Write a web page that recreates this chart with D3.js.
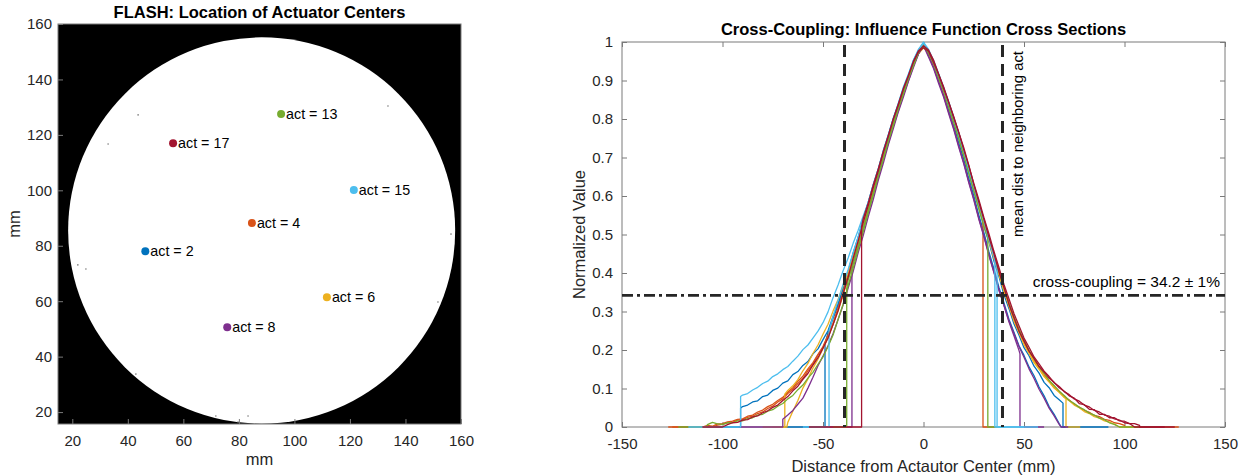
<!DOCTYPE html>
<html><head><meta charset="utf-8">
<script src="https://cdn.jsdelivr.net/npm/d3@7"></script>
<style>
body{margin:0;background:#fff;}
svg{display:block;font-family:"Liberation Sans",Arial,Helvetica,sans-serif;}
</style></head><body>
<svg id="chart" width="1246" height="476"></svg>
<script>
// ---------------- LEFT: actuator locations ----------------
const mapXRange = [14.85, 160];
const mapYRange = [15.7, 160];
const mapTicks = [20, 40, 60, 80, 100, 120, 140, 160];
const pupilCenter = [88.2, 85.5];
const pupilRadius = 69.7;
const actNumbers = [2, 4, 6, 8, 13, 15, 17];
const actX = [46.3, 84.7, 111.7, 75.8, 95.2, 121.4, 56.3];
const actY = [78.0, 88.2, 61.4, 50.6, 127.5, 100.1, 117.0];
const speckX = [43.7, 32.9, 133.7, 156.4, 22.0, 24.9, 42.9, 71.7, 83.3, 79.7, 151.7];
const speckY = [127.2, 116.7, 130.4, 84.2, 73.1, 71.6, 33.7, 18.6, 18.6, 16.4, 59.7];

// ---------------- RIGHT: cross sections ----------------
const xTicksCC = [-150, -100, -50, 0, 50, 100, 150];
const yTicksCC = [0, 0.1, 0.2, 0.3, 0.4, 0.5, 0.6, 0.7, 0.8, 0.9, 1];
const meanDist = 39.3;
const crossCoupling = 0.342;
const gridStep = 2.5;
// each profile: zero extent, low cut [x,y], high cut [x,y], first grid x, values on the grid
const prof2A = {zero: [-70, 78], lo: [-49, 0.215], hi: [69.4, 0.062], from: -47.5, vals: [
  0.245, 0.282, 0.316, 0.358, 0.398, 0.447, 0.488, 0.537, 0.579,
  0.624, 0.666, 0.713, 0.755, 0.799, 0.836, 0.877, 0.91, 0.948, 0.976,
  0.994, 0.973, 0.943, 0.909, 0.871, 0.834, 0.79, 0.751, 0.704, 0.662,
  0.613, 0.572, 0.522, 0.482, 0.432, 0.392, 0.344, 0.308, 0.268, 0.239,
  0.206, 0.185, 0.158, 0.14, 0.116, 0.102, 0.082, 0.071]};
const prof2B = {zero: [-115, 92], lo: [-91, 0.049], hi: [68.5, 0], from: -90, vals: [
  0.053, 0.057, 0.065, 0.068, 0.079, 0.083,
  0.095, 0.101, 0.114, 0.12, 0.136, 0.144, 0.16, 0.17, 0.19, 0.203,
  0.227, 0.25, 0.287, 0.32, 0.364, 0.403, 0.452, 0.493, 0.542, 0.583,
  0.63, 0.67, 0.718, 0.758, 0.802, 0.838, 0.88, 0.913, 0.952, 0.978,
  0.998, 0.968, 0.941, 0.902, 0.867, 0.824, 0.785, 0.738, 0.696, 0.646,
  0.601, 0.551, 0.506, 0.456, 0.411, 0.363, 0.323, 0.28, 0.246, 0.211,
  0.186, 0.156, 0.133, 0.104, 0.081, 0.053, 0.033, 0.009]};
const prof4A = {zero: [-127, 36], lo: [-110, 0], hi: [29.6, 0.545], from: -107.5, vals: [
  0.004, 0.002, 0.008,
  0.009, 0.013, 0.015, 0.02, 0.021, 0.028, 0.031, 0.039, 0.044, 0.053,
  0.059, 0.069, 0.077, 0.091, 0.102, 0.119, 0.132, 0.151, 0.167, 0.189,
  0.209, 0.239, 0.269, 0.309, 0.349, 0.395, 0.439, 0.487, 0.531, 0.579,
  0.621, 0.668, 0.711, 0.756, 0.796, 0.837, 0.874, 0.913, 0.945, 0.977,
  0.99, 0.978, 0.946, 0.913, 0.875, 0.838, 0.796, 0.758, 0.712, 0.669,
  0.622, 0.579]};
const prof4B = {zero: [-125, 127], lo: [-105, 0], hi: [100, 0.004], from: -102.5, vals: [
  0.005,
  0.007, 0.011, 0.012, 0.018, 0.019, 0.025, 0.028, 0.035, 0.039, 0.048,
  0.054, 0.065, 0.073, 0.087, 0.098, 0.113, 0.126, 0.146, 0.163, 0.187,
  0.207, 0.237, 0.267, 0.306, 0.345, 0.391, 0.435, 0.483, 0.527, 0.574,
  0.617, 0.665, 0.707, 0.753, 0.793, 0.835, 0.872, 0.91, 0.943, 0.975,
  0.985, 0.976, 0.947, 0.915, 0.878, 0.841, 0.799, 0.761, 0.715, 0.673,
  0.627, 0.584, 0.537, 0.495, 0.449, 0.407, 0.361, 0.323, 0.284, 0.253,
  0.221, 0.197, 0.173, 0.155, 0.135, 0.121, 0.104, 0.093, 0.079, 0.07,
  0.059, 0.052, 0.043, 0.038, 0.03, 0.027, 0.02, 0.017, 0.011, 0.009]};
const prof6A = {zero: [-80, 78], lo: [-69, 0.085], hi: [70.9, 0.075], from: -67.5, vals: [
  0.095, 0.107, 0.123, 0.146, 0.165, 0.191, 0.213,
  0.241, 0.267, 0.301, 0.331, 0.367, 0.401, 0.443, 0.485, 0.531, 0.574,
  0.621, 0.662, 0.709, 0.751, 0.794, 0.832, 0.873, 0.907, 0.944, 0.971,
  0.992, 0.975, 0.944, 0.912, 0.874, 0.837, 0.795, 0.757, 0.711, 0.668,
  0.621, 0.578, 0.531, 0.488, 0.441, 0.399, 0.353, 0.314, 0.275, 0.245,
  0.214, 0.191, 0.167, 0.15, 0.131, 0.117, 0.101, 0.09, 0.077]};
const prof6B = {zero: [-75, 110], lo: [-68, 0], hi: [97.5, 0], from: -67.5, vals: [
  0.012, 0.041, 0.069, 0.101, 0.125, 0.153, 0.176,
  0.204, 0.231, 0.267, 0.301, 0.343, 0.386, 0.435, 0.479, 0.527, 0.571,
  0.618, 0.661, 0.707, 0.749, 0.793, 0.831, 0.872, 0.906, 0.943, 0.969,
  0.985, 0.971, 0.941, 0.907, 0.87, 0.833, 0.791, 0.753, 0.707, 0.664,
  0.617, 0.575, 0.528, 0.485, 0.439, 0.398, 0.355, 0.319, 0.282, 0.251,
  0.219, 0.195, 0.17, 0.152, 0.132, 0.118, 0.102, 0.091, 0.077, 0.068,
  0.057, 0.05, 0.04, 0.035, 0.027, 0.023, 0.016, 0.013, 0.007]};
const prof8A = {zero: [-92, 72], lo: [-70, 0.02], hi: [68.5, 0], from: -67.5, vals: [
  0.031, 0.043, 0.059, 0.075, 0.101, 0.129, 0.159,
  0.184, 0.211, 0.242, 0.279, 0.317, 0.361, 0.404, 0.453, 0.497, 0.546,
  0.591, 0.641, 0.685, 0.733, 0.775, 0.819, 0.857, 0.898, 0.934, 0.969,
  0.99, 0.961, 0.931, 0.893, 0.857, 0.814, 0.773, 0.727, 0.684, 0.635,
  0.59, 0.54, 0.495, 0.446, 0.402, 0.356, 0.317, 0.276, 0.243, 0.209,
  0.181, 0.151, 0.126, 0.098, 0.075, 0.049, 0.029, 0.007]};
const prof8B = {zero: [-50, 60], lo: [-35.6, 0.41], hi: [48, 0.19], from: -35, vals: [
  0.426, 0.467, 0.514, 0.557,
  0.604, 0.647, 0.695, 0.737, 0.782, 0.821, 0.863, 0.899, 0.938, 0.969,
  0.994, 0.965, 0.935, 0.897, 0.861, 0.818, 0.777, 0.731, 0.687, 0.638,
  0.593, 0.543, 0.498, 0.449, 0.404, 0.357, 0.316, 0.273, 0.237, 0.199]};
const prof13A = {zero: [-122, 40], lo: [-108, 0], hi: [32, 0.49], from: -107.5, vals: [
  0.006, 0.012, 0.008,
  0.007, 0.011, 0.011, 0.016, 0.016, 0.022, 0.024, 0.031, 0.033, 0.041,
  0.045, 0.054, 0.061, 0.073, 0.082, 0.097, 0.109, 0.127, 0.142, 0.163,
  0.182, 0.209, 0.239, 0.279, 0.319, 0.367, 0.412, 0.461, 0.507, 0.557,
  0.602, 0.651, 0.695, 0.742, 0.783, 0.827, 0.865, 0.905, 0.939, 0.973,
  0.993, 0.971, 0.944, 0.907, 0.873, 0.831, 0.792, 0.749, 0.706, 0.659,
  0.615, 0.567, 0.523]};
const prof13B = {zero: [-45, 115], lo: [-38.2, 0.36], hi: [97.5, 0], from: -37.5, vals: [
  0.381, 0.424, 0.471, 0.515, 0.563,
  0.607, 0.655, 0.699, 0.746, 0.787, 0.83, 0.868, 0.907, 0.94, 0.973,
  0.988, 0.974, 0.947, 0.91, 0.877, 0.836, 0.798, 0.756, 0.715, 0.669,
  0.627, 0.581, 0.538, 0.492, 0.45, 0.404, 0.363, 0.321, 0.287, 0.253,
  0.226, 0.199, 0.178, 0.156, 0.14, 0.121, 0.108, 0.093, 0.082, 0.069,
  0.061, 0.051, 0.045, 0.036, 0.031, 0.023, 0.019, 0.011, 0.007]};
const prof15A = {zero: [-117, 50], lo: [-91, 0.079], hi: [35.5, 0.44], from: -90, vals: [
  0.083, 0.087, 0.096, 0.103, 0.113, 0.119,
  0.131, 0.138, 0.149, 0.157, 0.171, 0.184, 0.201, 0.213, 0.231, 0.249,
  0.271, 0.299, 0.336, 0.369, 0.406, 0.439, 0.477, 0.511, 0.548, 0.583,
  0.626, 0.667, 0.714, 0.757, 0.801, 0.841, 0.883, 0.917, 0.953, 0.981,
  1.0, 0.981, 0.951, 0.919, 0.882, 0.846, 0.805, 0.766, 0.719, 0.676,
  0.629, 0.586, 0.539, 0.495, 0.447]};
const prof15B = {zero: [-60, 57], lo: [-47, 0.25], hi: [36.6, 0.415], from: -45, vals: [
  0.287, 0.329, 0.371, 0.409, 0.453, 0.494, 0.541, 0.584,
  0.629, 0.671, 0.717, 0.759, 0.803, 0.841, 0.881, 0.915, 0.951, 0.979,
  0.997, 0.977, 0.951, 0.915, 0.881, 0.841, 0.803, 0.761, 0.719, 0.671,
  0.628, 0.581, 0.538, 0.489, 0.444]};
const prof17A = {zero: [-110, 125], lo: [-100, 0], hi: [107.5, 0.004], from: -97.5, vals: [
  0.006, 0.011, 0.012, 0.018, 0.019, 0.026, 0.029, 0.037, 0.042,
  0.051, 0.057, 0.069, 0.079, 0.094, 0.106, 0.124, 0.139, 0.161, 0.18,
  0.205, 0.231, 0.266, 0.302, 0.346, 0.389, 0.438, 0.483, 0.531, 0.575,
  0.622, 0.665, 0.712, 0.755, 0.799, 0.837, 0.878, 0.912, 0.949, 0.977,
  0.99, 0.979, 0.953, 0.917, 0.884, 0.844, 0.807, 0.766, 0.726, 0.681,
  0.631, 0.584, 0.541, 0.494, 0.451, 0.404, 0.363, 0.319, 0.284, 0.249,
  0.223, 0.197, 0.178, 0.157, 0.143, 0.127, 0.116, 0.102, 0.093, 0.081,
  0.075, 0.061, 0.058, 0.046, 0.045, 0.033, 0.033, 0.024, 0.024, 0.016,
  0.015, 0.009, 0.009]};
const prof17B = {zero: [-57, 120], lo: [-30.8, 0.52], hi: [105, 0], from: -30, vals: [
  0.541, 0.582,
  0.628, 0.67, 0.716, 0.757, 0.801, 0.839, 0.879, 0.913, 0.949, 0.975,
  0.985, 0.976, 0.947, 0.916, 0.879, 0.844, 0.804, 0.766, 0.721, 0.679,
  0.633, 0.591, 0.545, 0.503, 0.457, 0.415, 0.371, 0.333, 0.295, 0.263,
  0.231, 0.207, 0.182, 0.164, 0.145, 0.131, 0.115, 0.105, 0.092, 0.084,
  0.073, 0.067, 0.057, 0.052, 0.043, 0.039, 0.031, 0.028, 0.021, 0.018,
  0.011, 0.009]};
const seriesProfiles = [
  [prof2A, prof2B], [prof4A, prof4B], [prof6A, prof6B], [prof8A, prof8B],
  [prof13A, prof13B], [prof15A, prof15B], [prof17A, prof17B]];

// ---------------- styles ----------------
const actColors = ['#0072BD', '#D95319', '#EDB120', '#7E2F8E', '#77AC30', '#4DBEEE', '#A2142F'];
const axisColor = '#262626';
const boxColor = '#7a7a7a';
const tickFont = '15px';
const labelFont = '16.5px';

const svg = d3.select('#chart');
const hyphenFmt = (d) => String(d).replace('\u2212', '-');

// ======== LEFT PANEL ========
const L = {x0: 58, x1: 461, y0: 24, y1: 424};
const lx = d3.scaleLinear().domain(mapXRange).range([L.x0, L.x1]);
const ly = d3.scaleLinear().domain(mapYRange).range([L.y1, L.y0]);

svg.append('defs').append('clipPath').attr('id', 'clipL')
  .append('rect').attr('x', L.x0).attr('y', L.y0).attr('width', L.x1 - L.x0).attr('height', L.y1 - L.y0);

const gl = svg.append('g');
const gImg = gl.append('g').attr('clip-path', 'url(#clipL)');
gImg.append('rect').attr('x', L.x0).attr('y', L.y0).attr('width', L.x1 - L.x0).attr('height', L.y1 - L.y0).attr('fill', '#000');
gImg.append('ellipse')
  .attr('cx', lx(pupilCenter[0])).attr('cy', ly(pupilCenter[1]))
  .attr('rx', lx(pupilCenter[0] + pupilRadius) - lx(pupilCenter[0]))
  .attr('ry', ly(pupilCenter[1]) - ly(pupilCenter[1] + pupilRadius))
  .attr('fill', '#fff');
gImg.selectAll('circle.speck').data(speckX).join('circle').attr('class', 'speck')
  .attr('cx', (d) => lx(d)).attr('cy', (d, i) => ly(speckY[i])).attr('r', 0.8).attr('fill', '#777');

function styleAxis(g) {
  g.select('.domain').remove();
  g.selectAll('line').attr('stroke', boxColor);
  g.selectAll('text').attr('fill', axisColor).style('font-size', tickFont)
    .style('font-family', '"Liberation Sans",Arial,sans-serif');
}
const lxAxis = d3.axisBottom(lx).tickValues(mapTicks).tickSize(-5).tickPadding(11.5).tickFormat(hyphenFmt);
const lyAxis = d3.axisLeft(ly).tickValues(mapTicks).tickSize(-5).tickPadding(6).tickFormat(hyphenFmt);
gl.append('g').attr('transform', `translate(0,${L.y1})`).call(lxAxis).call(styleAxis);
gl.append('g').attr('transform', `translate(${L.x0},0)`).call(lyAxis).call(styleAxis);
gl.append('rect').attr('x', L.x0).attr('y', L.y0).attr('width', L.x1 - L.x0).attr('height', L.y1 - L.y0)
  .attr('fill', 'none').attr('stroke', boxColor).attr('stroke-width', 1);

// actuator markers
const acts = actNumbers.map((n, i) => ({n, x: actX[i], y: actY[i], c: actColors[i]}));
gl.selectAll('circle.act').data(acts).join('circle').attr('class', 'act')
  .attr('cx', (d) => lx(d.x)).attr('cy', (d) => ly(d.y)).attr('r', 4).attr('fill', (d) => d.c);
gl.selectAll('text.act').data(acts).join('text').attr('class', 'act')
  .attr('x', (d) => lx(d.x) + 5).attr('y', (d) => ly(d.y)).attr('dy', '0.36em')
  .style('font-size', '14.3px').attr('fill', '#000').text((d) => `act = ${d.n}`);

gl.append('text').attr('x', (L.x0 + L.x1) / 2).attr('y', 18).attr('text-anchor', 'middle')
  .style('font-size', labelFont).style('font-weight', 'bold').attr('fill', '#000')
  .text('FLASH: Location of Actuator Centers');
gl.append('text').attr('x', (L.x0 + L.x1) / 2).attr('y', 465).attr('text-anchor', 'middle')
  .style('font-size', labelFont).attr('fill', axisColor).text('mm');
gl.append('text').attr('transform', `translate(20,${(L.y0 + L.y1) / 2}) rotate(-90)`).attr('text-anchor', 'middle')
  .style('font-size', labelFont).attr('fill', axisColor).text('mm');

// ======== RIGHT PANEL ========
const R = {x0: 622, x1: 1225, y0: 42, y1: 427};
const rx = d3.scaleLinear().domain([xTicksCC[0], xTicksCC[xTicksCC.length - 1]]).range([R.x0, R.x1]);
const ry = d3.scaleLinear().domain([0, 1]).range([R.y1, R.y0]);
const gr = svg.append('g');

svg.select('defs').append('clipPath').attr('id', 'clipR')
  .append('rect').attr('x', R.x0).attr('y', R.y0 - 2).attr('width', R.x1 - R.x0).attr('height', R.y1 - R.y0 + 3);

const fmtY = (d) => (d === 0 || d === 1) ? String(d) : d3.format('.1f')(d);
const rxAxis = d3.axisBottom(rx).tickValues(xTicksCC).tickSize(-5).tickPadding(11.5).tickFormat(hyphenFmt);
const ryAxis = d3.axisLeft(ry).tickValues(yTicksCC).tickSize(-5).tickPadding(9).tickFormat(fmtY);
gr.append('g').attr('transform', `translate(0,${R.y1})`).call(rxAxis).call(styleAxis);
gr.append('g').attr('transform', `translate(${R.x0},0)`).call(ryAxis).call(styleAxis);
gr.append('g').attr('transform', `translate(0,${R.y0})`)
  .call(d3.axisTop(rx).tickValues(xTicksCC).tickSize(-5).tickFormat('')).call(styleAxis);
gr.append('g').attr('transform', `translate(${R.x1},0)`)
  .call(d3.axisRight(ry).tickValues(yTicksCC).tickSize(-5).tickFormat('')).call(styleAxis);
gr.append('rect').attr('x', R.x0).attr('y', R.y0).attr('width', R.x1 - R.x0).attr('height', R.y1 - R.y0)
  .attr('fill', 'none').attr('stroke', boxColor).attr('stroke-width', 1);

// profiles
function profilePoints(p) {
  const pts = [[p.zero[0], 0], [p.lo[0], 0], [p.lo[0], p.lo[1]]];
  p.vals.forEach((v, i) => pts.push([p.from + i * gridStep, v]));
  pts.push([p.hi[0], p.hi[1]], [p.hi[0], 0], [p.zero[1], 0]);
  return pts;
}
const line = d3.line().x((d) => rx(d[0])).y((d) => ry(d[1]));
const gCurves = gr.append('g').attr('clip-path', 'url(#clipR)');
seriesProfiles.forEach((profs, si) => {
  profs.forEach((p) => {
    gCurves.append('path').attr('d', line(profilePoints(p)))
      .attr('fill', 'none').attr('stroke', actColors[si]).attr('stroke-width', 1.3)
      .attr('stroke-linejoin', 'round');
  });
});

// reference lines
[-meanDist, meanDist].forEach((m) => {
  gr.append('line').attr('x1', rx(m)).attr('x2', rx(m)).attr('y1', ry(1) + 3).attr('y2', ry(0))
    .attr('stroke', '#262626').attr('stroke-width', 3).attr('stroke-dasharray', '12,7');
});
gr.append('line').attr('x1', rx(xTicksCC[0])).attr('x2', rx(xTicksCC[xTicksCC.length - 1]))
  .attr('y1', ry(crossCoupling)).attr('y2', ry(crossCoupling))
  .attr('stroke', '#262626').attr('stroke-width', 2.6).attr('stroke-dasharray', '11,4,3,4');

gr.append('text').attr('x', R.x1 - 5).attr('y', ry(crossCoupling) - 8).attr('text-anchor', 'end')
  .style('font-size', '15.5px').attr('fill', '#000').text('cross-coupling = 34.2 \u00B1 1%');
gr.append('text').attr('transform', `translate(${rx(meanDist) + 21},237) rotate(-90)`)
  .attr('text-anchor', 'start').style('font-size', '14.8px').attr('fill', '#000')
  .text('mean dist to neighboring act');

gr.append('text').attr('x', (R.x0 + R.x1) / 2).attr('y', 35).attr('text-anchor', 'middle')
  .style('font-size', labelFont).style('font-weight', 'bold').attr('fill', '#000')
  .text('Cross-Coupling: Influence Function Cross Sections');
gr.append('text').attr('x', (R.x0 + R.x1) / 2).attr('y', 472).attr('text-anchor', 'middle')
  .style('font-size', labelFont).attr('fill', axisColor).text('Distance from Actautor Center (mm)');
gr.append('text').attr('transform', `translate(585,${(R.y0 + R.y1) / 2}) rotate(-90)`).attr('text-anchor', 'middle')
  .style('font-size', labelFont).attr('fill', axisColor).text('Normalized Value');
</script>
</body></html>
